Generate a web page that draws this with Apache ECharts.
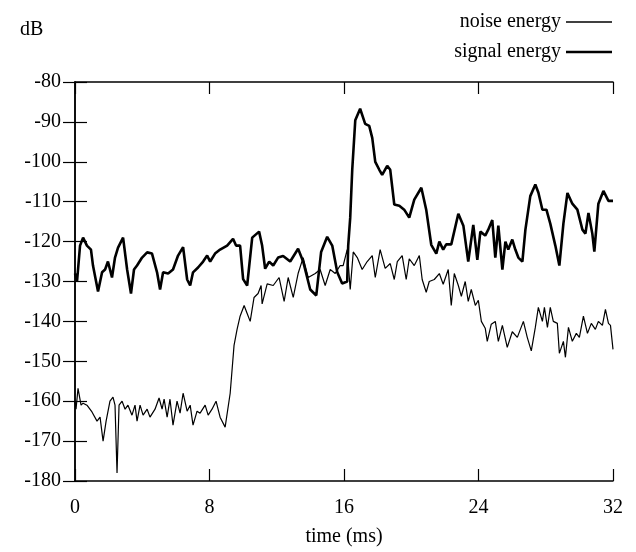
<!DOCTYPE html>
<html>
<head>
<meta charset="utf-8">
<script src="https://cdn.jsdelivr.net/npm/echarts@6/dist/echarts.min.js"></script>
<style>html,body{margin:0;padding:0;background:#fff}#c{width:636px;height:552px}</style>
</head>
<body>
<div id="c"></div>
<script>
const xTicks = [0, 8, 16, 24, 32];
const yTicks = [-180, -170, -160, -150, -140, -130, -120, -110, -100, -90, -80];

const signalTime = [0,0.12,0.30,0.48,0.71,0.95,1.07,1.37,1.61,1.79,1.96,2.20,2.38,2.56,2.86,3.10,3.33,3.51,3.69,3.99,4.29,4.58,4.88,5.06,5.24,5.54,5.83,6.13,6.43,6.67,6.85,7.02,7.32,7.62,7.86,8.04,8.33,8.63,9.05,9.40,9.58,9.82,10.00,10.24,10.54,10.95,11.13,11.31,11.55,11.79,12.08,12.38,12.80,13.27,13.57,13.99,14.35,14.64,15.00,15.30,15.60,15.89,16.19,16.25,16.37,16.49,16.67,16.96,17.26,17.50,17.68,17.86,18.10,18.27,18.57,18.75,18.99,19.29,19.58,19.88,20.18,20.60,20.89,21.19,21.49,21.67,21.90,22.08,22.38,22.80,23.10,23.39,23.69,23.93,24.11,24.40,24.58,24.82,25.00,25.18,25.42,25.60,25.77,26.01,26.19,26.37,26.61,26.79,27.08,27.38,27.56,27.80,28.04,28.27,28.57,28.81,29.05,29.29,29.58,29.88,30.18,30.36,30.54,30.77,30.89,31.13,31.43,31.73,32.00];
const signalEnergy = [-128,-130,-121,-119,-121,-122,-126,-132.5,-127.7,-127,-125,-129,-124,-121.5,-119,-127,-133,-127,-126,-124,-122.7,-123,-127.7,-132,-127.7,-128,-127,-123.5,-121.4,-129.5,-131,-127.7,-126.5,-125,-123.5,-125,-123,-122,-121,-119.3,-121,-121,-129.4,-131,-119,-117.5,-121,-126.8,-125,-126,-124,-123.6,-125,-121.8,-125,-132,-133.5,-122.6,-118.8,-121,-127.7,-130.5,-130,-121,-114,-102,-89.6,-86.7,-90.5,-91,-94,-100,-102,-103.3,-101,-102,-110.7,-111,-112,-114,-109.5,-106.5,-112,-120.8,-123,-120,-122,-120.7,-120.7,-113,-116,-125,-115.8,-124.6,-117.5,-118.5,-117,-114.6,-124,-116,-127,-120,-122,-119.5,-122,-124,-125,-117,-108.6,-105.7,-107.7,-112,-112,-115.5,-121,-126,-115.5,-107.8,-110.5,-112,-117,-118,-112.8,-118,-122.5,-110.5,-107.3,-109.8,-109.8];

const noiseTime = [0,0.06,0.18,0.36,0.48,0.71,1.01,1.31,1.49,1.67,1.85,2.08,2.26,2.38,2.50,2.62,2.80,2.98,3.15,3.39,3.57,3.69,3.87,4.05,4.29,4.46,4.76,5.00,5.18,5.30,5.48,5.65,5.83,6.07,6.25,6.43,6.67,6.85,7.02,7.26,7.44,7.74,7.92,8.15,8.39,8.63,8.93,9.23,9.46,9.64,9.82,10.06,10.24,10.42,10.65,10.89,11.07,11.13,11.43,11.79,12.14,12.44,12.68,12.98,13.27,13.57,13.87,14.29,14.58,14.88,15.18,15.48,15.77,15.95,16.19,16.37,16.55,16.79,17.08,17.38,17.68,17.86,18.15,18.45,18.75,18.99,19.17,19.46,19.70,19.88,20.18,20.48,20.65,20.89,21.07,21.37,21.67,21.90,22.20,22.38,22.56,22.80,22.98,23.21,23.39,23.57,23.81,23.99,24.17,24.40,24.52,24.76,25.00,25.18,25.42,25.71,26.01,26.31,26.67,26.90,27.14,27.38,27.56,27.80,27.92,28.10,28.27,28.45,28.69,28.81,29.05,29.17,29.35,29.58,29.82,30.00,30.24,30.48,30.71,30.95,31.13,31.37,31.55,31.73,31.85,32.00];
const noiseEnergy = [-160,-162,-156.8,-161,-160.5,-161,-162.7,-165,-164,-170,-165,-160,-159,-161,-178,-161,-160,-162,-161,-163.5,-161,-165,-161,-163.5,-162,-164,-162,-159.2,-162,-159.5,-164,-159.5,-166,-160,-163,-158,-162.5,-161,-166,-162.5,-163,-161,-163.5,-162,-160,-164,-166.5,-158,-146,-142,-138.7,-136,-138,-140,-134,-133,-131,-135.6,-130.6,-131,-129,-135,-129,-134,-128,-124,-129,-128,-127,-131,-127,-128,-126,-126,-122,-132,-122.6,-124,-127,-125,-123.5,-129,-122,-126.7,-125.5,-129.5,-125,-123.5,-129.5,-124.3,-126,-123.5,-129.5,-132.7,-130,-129.5,-128,-130.7,-127,-136,-128,-131,-133.7,-130,-135,-132,-136,-134.7,-140,-141.7,-145,-140.7,-140,-145,-141,-146.5,-142.6,-144,-140,-144,-147.4,-141.5,-136.5,-140,-136.5,-141.5,-136.5,-140,-140.5,-148,-145,-149,-141.5,-145,-143,-144,-138.7,-143,-140.5,-142,-140,-141,-137,-140.5,-141,-147];

const FONT = "'Liberation Serif','DejaVu Serif',serif";
const zip = (a, b) => a.map((t, i) => [t, b[i]]);

const chart = echarts.init(document.getElementById('c'), null, {renderer: 'canvas'});
const axisLine = {show: true, lineStyle: {color: '#000', width: 1.5}};
const tick = {show: true, inside: true, length: 12, lineStyle: {color: '#000', width: 1.2}};
const legendText = {fontFamily: FONT, fontSize: 20, color: '#000'};
chart.setOption({
  animation: false,
  backgroundColor: '#fff',
  grid: {left: 75, right: 23, top: 82, bottom: 70, containLabel: false},
  legend: [{
    right: 24, top: 12, padding: 0, orient: 'vertical', align: 'right', icon: 'rect',
    itemWidth: 46, itemHeight: 1.3, textStyle: legendText,
    data: ['noise energy']
  }, {
    right: 24, top: 42, padding: 0, orient: 'vertical', align: 'right', icon: 'rect',
    itemWidth: 46, itemHeight: 2.6, textStyle: legendText,
    data: ['signal energy']
  }],
  graphic: [{type: 'text', left: 20, top: 20, style: {text: 'dB', font: '20px ' + FONT, fill: '#000'}}],
  xAxis: [{
    type: 'value', min: xTicks[0], max: xTicks[xTicks.length - 1], interval: 8,
    name: 'time (ms)', nameLocation: 'middle', nameGap: 46,
    nameTextStyle: {fontFamily: FONT, fontSize: 20, color: '#000'},
    axisLine: axisLine, axisTick: tick, splitLine: {show: false},
    axisLabel: {fontFamily: FONT, fontSize: 20, color: '#000', margin: 17}
  }, {
    type: 'value', position: 'top', min: xTicks[0], max: xTicks[xTicks.length - 1], interval: 8,
    axisLine: axisLine, axisTick: tick, splitLine: {show: false}, axisLabel: {show: false}
  }],
  yAxis: [{
    type: 'value', min: yTicks[0], max: yTicks[yTicks.length - 1], interval: 10,
    axisLine: axisLine, axisTick: tick, splitLine: {show: false},
    axisLabel: {fontFamily: FONT, fontSize: 20, color: '#000', margin: 14}
  }, {
    type: 'value', position: 'right', min: yTicks[0], max: yTicks[yTicks.length - 1], interval: 10,
    axisLine: axisLine, axisTick: tick, splitLine: {show: false}, axisLabel: {show: false}
  }],
  series: [{
    name: 'noise energy', type: 'line', symbol: 'none', data: zip(noiseTime, noiseEnergy),
    lineStyle: {color: '#000', width: 1.2}, itemStyle: {color: '#000'}
  }, {
    name: 'signal energy', type: 'line', symbol: 'none', data: zip(signalTime, signalEnergy),
    lineStyle: {color: '#000', width: 2.6}, itemStyle: {color: '#000'}
  }]
});
</script>
</body>
</html>
